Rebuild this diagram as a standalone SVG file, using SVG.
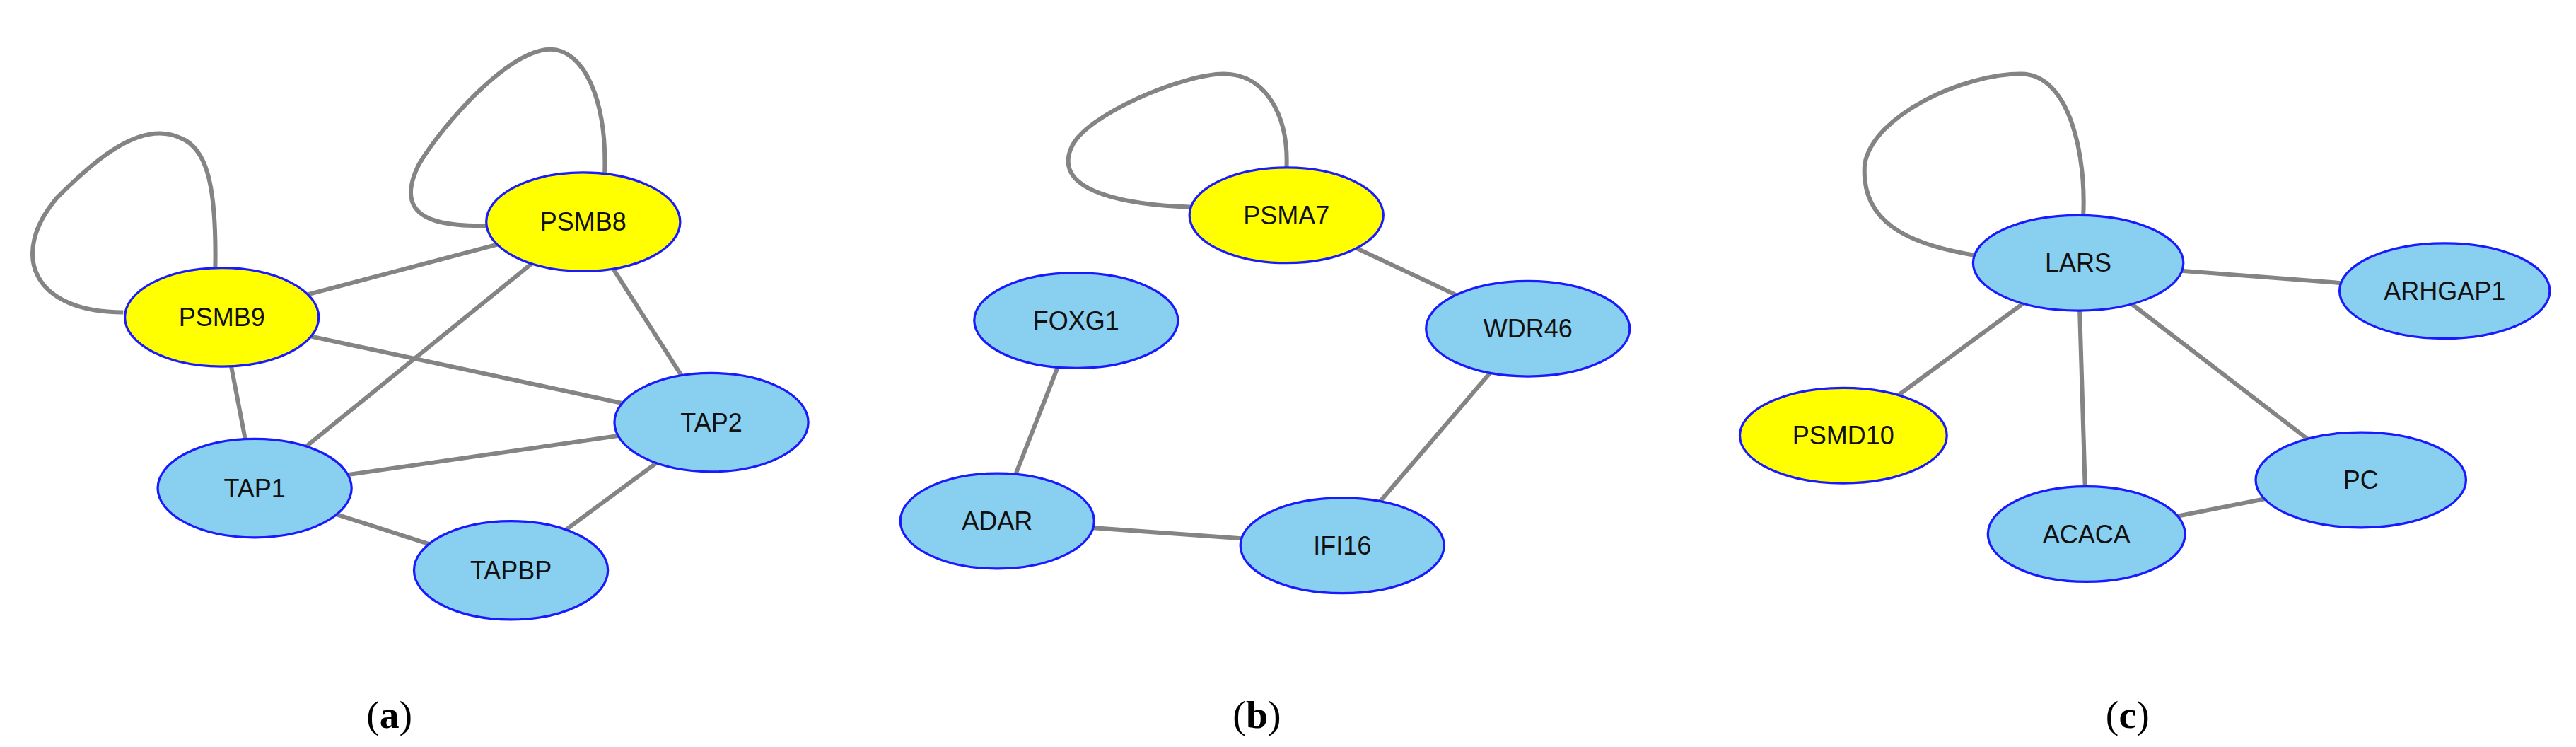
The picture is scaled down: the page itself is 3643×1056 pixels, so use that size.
<svg xmlns="http://www.w3.org/2000/svg" width="3643" height="1056" viewBox="0 0 3643 1056">
<style>
.e{stroke:#848484;stroke-width:2.6;fill:none}
.n ellipse{stroke:#1a1aff;stroke-width:1.4}
.b{fill:#89cff0}.y{fill:#ffff00}
.n text{font-family:"Liberation Sans",Arial,sans-serif;font-size:15.5px;fill:#111;text-anchor:middle;dominant-baseline:central}
.cap{font-family:"Liberation Serif","Times New Roman",serif;font-size:24px;text-anchor:middle;fill:#000}
</style>
<rect width="3643" height="1056" fill="#fff"/>
<g transform="scale(2.3234)">
<g id="connectors">
<path class="e" d="M131,164 C132,110 125,90 110,84 C85,72 55,100 35,120 C5,155 20,190 75,190"/>
<path class="e" d="M368,108 C370,60 355,30 335,30 C310,30 270,75 255,100 C235,140 280,138 310,137"/>
<path class="e" d="M783,104 C785,70 770,45 745,45 C720,45 660,70 652,90 C640,118 690,125 726,126"/>
<path class="e" d="M1268,132 C1270,95 1260,45 1230,45 C1195,45 1140,70 1135,100 C1132,140 1170,150 1206,156"/>
<line class="e" x1="135" y1="193" x2="355" y2="135"/>
<line class="e" x1="135" y1="193" x2="433" y2="257"/>
<line class="e" x1="135" y1="193" x2="155" y2="297"/>
<line class="e" x1="355" y1="135" x2="155" y2="297"/>
<line class="e" x1="355" y1="135" x2="433" y2="257"/>
<line class="e" x1="155" y1="297" x2="433" y2="257"/>
<line class="e" x1="155" y1="297" x2="311" y2="347"/>
<line class="e" x1="433" y1="257" x2="311" y2="347"/>
<line class="e" x1="783" y1="131" x2="930" y2="200"/>
<line class="e" x1="930" y1="200" x2="817" y2="332"/>
<line class="e" x1="655" y1="195" x2="607" y2="317"/>
<line class="e" x1="607" y1="317" x2="817" y2="332"/>
<line class="e" x1="1265" y1="160" x2="1488" y2="177"/>
<line class="e" x1="1265" y1="160" x2="1122" y2="265"/>
<line class="e" x1="1265" y1="160" x2="1270" y2="325"/>
<line class="e" x1="1265" y1="160" x2="1437" y2="292"/>
<line class="e" x1="1270" y1="325" x2="1437" y2="292"/>
</g>
<g id="PSMB9" class="n"><ellipse class="y" cx="135" cy="193" rx="59" ry="30"/><text x="135" y="193">PSMB9</text></g>
<g id="PSMB8" class="n"><ellipse class="y" cx="355" cy="135" rx="59" ry="30"/><text x="355" y="135">PSMB8</text></g>
<g id="TAP2" class="n"><ellipse class="b" cx="433" cy="257" rx="59" ry="30"/><text x="433" y="257">TAP2</text></g>
<g id="TAP1" class="n"><ellipse class="b" cx="155" cy="297" rx="59" ry="30"/><text x="155" y="297">TAP1</text></g>
<g id="TAPBP" class="n"><ellipse class="b" cx="311" cy="347" rx="59" ry="30"/><text x="311" y="347">TAPBP</text></g>
<g id="PSMA7" class="n"><ellipse class="y" cx="783" cy="131" rx="59" ry="29"/><text x="783" y="131">PSMA7</text></g>
<g id="WDR46" class="n"><ellipse class="b" cx="930" cy="200" rx="62" ry="29"/><text x="930" y="200">WDR46</text></g>
<g id="FOXG1" class="n"><ellipse class="b" cx="655" cy="195" rx="62" ry="29"/><text x="655" y="195">FOXG1</text></g>
<g id="ADAR" class="n"><ellipse class="b" cx="607" cy="317" rx="59" ry="29"/><text x="607" y="317">ADAR</text></g>
<g id="IFI16" class="n"><ellipse class="b" cx="817" cy="332" rx="62" ry="29"/><text x="817" y="332">IFI16</text></g>
<g id="LARS" class="n"><ellipse class="b" cx="1265" cy="160" rx="64" ry="29"/><text x="1265" y="160">LARS</text></g>
<g id="ARHGAP1" class="n"><ellipse class="b" cx="1488" cy="177" rx="64" ry="29"/><text x="1488" y="177">ARHGAP1</text></g>
<g id="PSMD10" class="n"><ellipse class="y" cx="1122" cy="265" rx="63" ry="29"/><text x="1122" y="265">PSMD10</text></g>
<g id="PC" class="n"><ellipse class="b" cx="1437" cy="292" rx="64" ry="29"/><text x="1437" y="292">PC</text></g>
<g id="ACACA" class="n"><ellipse class="b" cx="1270" cy="325" rx="60" ry="29"/><text x="1270" y="325">ACACA</text></g>
<text class="cap" x="237" y="443">(<tspan font-weight="bold">a</tspan>)</text>
<text class="cap" x="765" y="443">(<tspan font-weight="bold">b</tspan>)</text>
<text class="cap" x="1295" y="443">(<tspan font-weight="bold">c</tspan>)</text>
</g>
</svg>
